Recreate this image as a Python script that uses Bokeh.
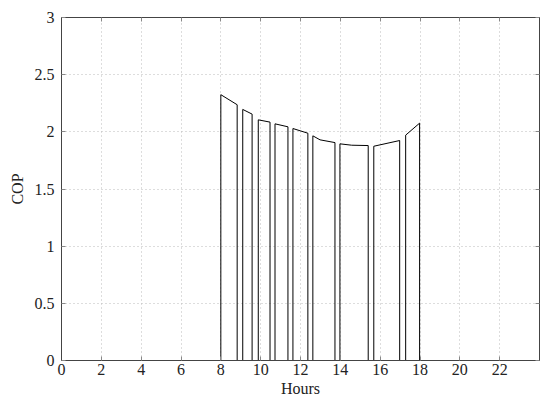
from bokeh.plotting import figure
from bokeh.models import Range1d, LinearAxis, FixedTicker
from bokeh.embed import file_html
from bokeh.resources import INLINE

# Data: COP over the day (compressor on/off cycles drop to 0)
hours = [0, 8.0, 8.0, 8.82, 8.82, 9.1, 9.1, 9.57, 9.57, 9.88, 9.88, 10.47, 10.47,
         10.72, 10.72, 11.37, 11.37, 11.62, 11.62, 12.37, 12.37, 12.62, 12.62, 12.98,
         13.73, 13.73, 13.98, 13.98, 14.57, 15.4, 15.4, 15.68, 15.68, 16.98, 16.98,
         17.28, 17.28, 17.98, 17.98, 24]
cop = [0, 0, 2.325, 2.237, 0, 0, 2.196, 2.155, 0, 0, 2.105, 2.085, 0,
       0, 2.07, 2.044, 0, 0, 2.029, 1.988, 0, 0, 1.965, 1.93,
       1.906, 0, 0, 1.895, 1.883, 1.88, 0, 0, 1.874, 1.924, 0,
       0, 1.971, 2.076, 0, 0]

x_ticks = [0, 2, 4, 6, 8, 10, 12, 14, 16, 18, 20, 22]
y_ticks = [0, 0.5, 1, 1.5, 2, 2.5, 3]
y_labels = ["0", "0.5", "1", "1.5", "2", "2.5", "3"]

FONT = "Liberation Serif"
AX = "#444444"

p = figure(width=548, height=399, output_backend="svg", toolbar_location=None,
           x_range=Range1d(0, 24), y_range=Range1d(0, 3),
           min_border_left=61, min_border_right=9, min_border_top=17, min_border_bottom=38)

p.line(hours, cop, line_color="black", line_width=1)

p.xaxis.ticker = FixedTicker(ticks=x_ticks)
p.yaxis.ticker = FixedTicker(ticks=y_ticks)
p.yaxis.major_label_overrides = {t: l for t, l in zip(y_ticks, y_labels)}
p.xaxis.axis_label = "Hours"
p.yaxis.axis_label = "COP"

for ax in (p.xaxis[0], p.yaxis[0]):
    ax.major_label_text_font = FONT
    ax.major_label_text_font_size = "16px"
    ax.major_label_text_color = "#222222"
    ax.axis_label_text_font = FONT
    ax.axis_label_text_font_size = "16px"
    ax.axis_label_text_font_style = "normal"
    ax.axis_label_text_color = "#222222"
    ax.major_tick_in = 4
    ax.major_tick_out = 0
    ax.minor_tick_line_color = None
    ax.axis_line_color = AX
    ax.major_tick_line_color = "#888888"
p.xaxis.major_label_standoff = 3
p.xaxis.axis_label_standoff = 2
p.yaxis.major_label_standoff = 7
p.yaxis.axis_label_standoff = 6

top = LinearAxis(ticker=FixedTicker(ticks=x_ticks), major_label_text_color=None,
                 major_tick_in=4, major_tick_out=0, minor_tick_line_color=None,
                 axis_line_color=AX, major_tick_line_color="#888888", major_label_standoff=0)
right = LinearAxis(ticker=FixedTicker(ticks=y_ticks), major_label_text_color=None,
                   major_tick_in=4, major_tick_out=0, minor_tick_line_color=None,
                   axis_line_color=AX, major_tick_line_color="#888888", major_label_standoff=0)
p.add_layout(top, "above")
p.add_layout(right, "right")

p.grid.grid_line_color = "#bbbbbb"
p.grid.grid_line_dash = "1 3"
p.grid.grid_line_width = 1
p.outline_line_color = AX

p.background_fill_color = "white"
p.border_fill_color = "white"

open("out.html", "w").write(file_html(p, INLINE))
